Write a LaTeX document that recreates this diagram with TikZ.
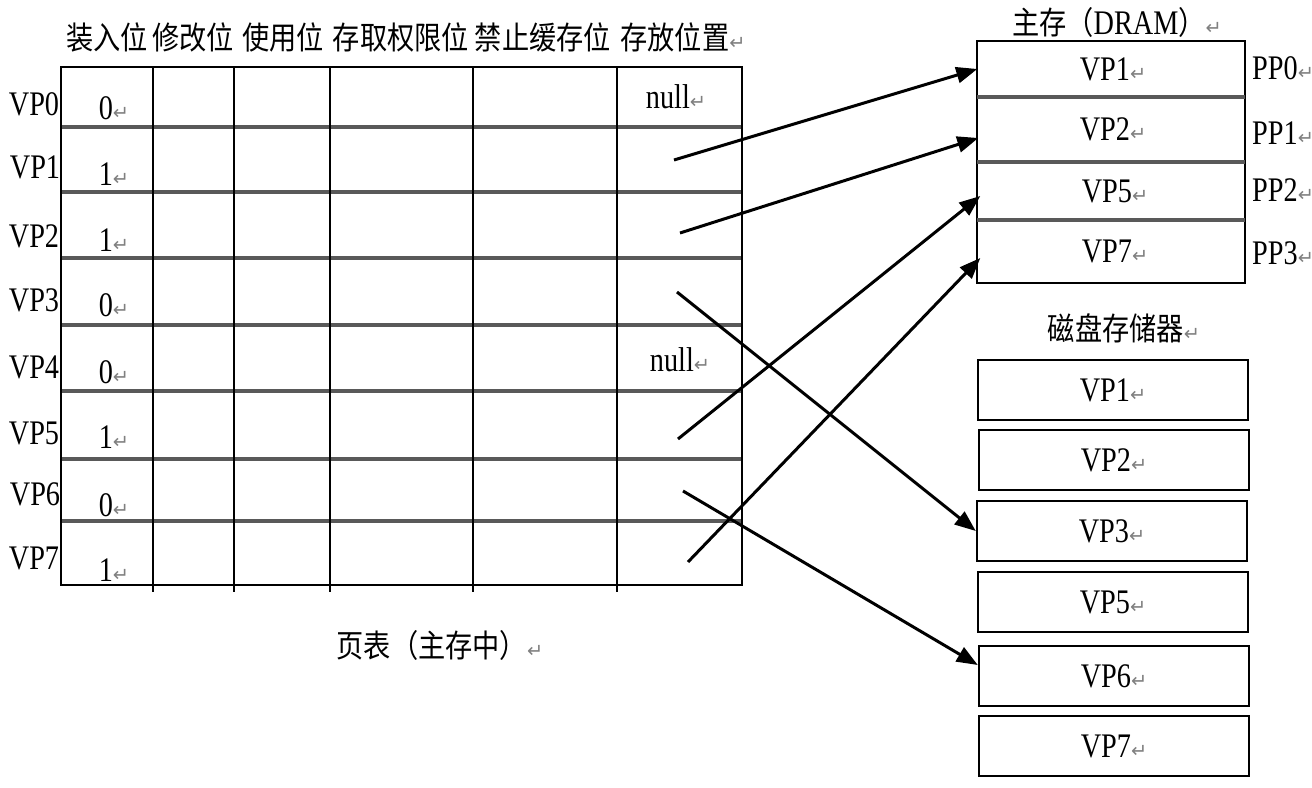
\documentclass[tikz,border=0pt]{standalone}
\usepackage{fontspec}
\setmainfont[FakeStretch=0.82]{Liberation Serif}
\newfontfamily\cjk[FakeStretch=0.86]{Noto Sans CJK SC}
\newfontfamily\symfont{DejaVu Sans}
\usepackage{tikz}
\usetikzlibrary{arrows.meta}
\newcommand{\ret}{{\symfont\color{gray}\fontsize{5.5}{6}\selectfont ↵}}

\begin{document}
\begin{tikzpicture}[x=0.1mm,y=-0.1mm,font=\fontsize{9.8}{11}\selectfont,
    hd/.style={font=\cjk\fontsize{9}{10}\selectfont},
    rowline/.style={gray!70!black, line width=0.9pt},
    mem/.style={minimum width=26.8mm, minimum height=5.6mm, inner sep=0pt},
    disk/.style={draw, line width=0.7pt, minimum width=27mm, minimum height=6.05mm, inner sep=0pt},
    link/.style={line width=0.85pt, -{Triangle[length=2.1mm,width=1.6mm]}}]
      \useasboundingbox (0,0) rectangle (1312,788);
      % page table
      \node [hd] (h1) at (107,37) {装入位};
      \node [hd] (h2) at (193,37) {修改位};
      \node [hd] (h3) at (283,37) {使用位};
      \node [hd] (h4) at (401,37) {存取权限位};
      \node [hd] (h5) at (543,37) {禁止缓存位};
      \node [hd] (h6) at (683,37) {存放位置\ret};
      \foreach \y in {127,192,258,325,391,459,521}
        \draw [rowline] (61,\y) -- (742,\y);
      \foreach \x in {153,234,330,473,617}
        \draw [black, line width=0.6pt] (\x,67) -- (\x,592);
      \draw [black, line width=0.6pt] (61,67) rectangle (742,585);
      \node (v0) at (34,104) {VP0};
      \node (v1) at (35,167) {VP1};
      \node (v2) at (34,236) {VP2};
      \node (v3) at (34,300) {VP3};
      \node (v4) at (34,367) {VP4};
      \node (v5) at (34,433) {VP5};
      \node (v6) at (35,494) {VP6};
      \node (v7) at (34,558) {VP7};
      \node (b0) at (114,108) {0\ret};
      \node (b1) at (114,174) {1\ret};
      \node (b2) at (114,240) {1\ret};
      \node (b3) at (114,305) {0\ret};
      \node (b4) at (114,372) {0\ret};
      \node (b5) at (114,437) {1\ret};
      \node (b6) at (114,505) {0\ret};
      \node (b7) at (114,570) {1\ret};
      \node (n0) at (676,97) {null\ret};
      \node (n4) at (680,360) {null\ret};
      \coordinate (s1) at (674,160);
      \coordinate (s2) at (680,233);
      \coordinate (s3) at (677,292);
      \coordinate (s5) at (678,439);
      \coordinate (s6) at (683,491);
      \coordinate (s7) at (688,562);
      \node [hd] (pt) at (440,645) {页表（主存中）\ret};
      % main memory
      \node (mt) at (1117,22) {{\cjk\fontsize{9}{10}\selectfont 主存（}DRAM{\cjk\fontsize{9}{10}\selectfont ）}\ret};
      \draw [black, line width=0.6pt] (977,41) rectangle (1245,283);
      \foreach \y in {97,162,220}
        \draw [rowline] (977,\y) -- (1245,\y);
      \node [mem] (m1) at (1113,69) {VP1\ret};
      \node [mem] (m2) at (1113,129) {VP2\ret};
      \node [mem] (m3) at (1115,191) {VP5\ret};
      \node [mem] (m4) at (1115,251) {VP7\ret};
      \node [anchor=west, inner sep=1pt] (p0) at (1248,68) {PP0\ret};
      \node [anchor=west, inner sep=1pt] (p1) at (1248,133) {PP1\ret};
      \node [anchor=west, inner sep=1pt] (p2) at (1248,190) {PP2\ret};
      \node [anchor=west, inner sep=1pt] (p3) at (1248,253) {PP3\ret};
      % disk
      \node [hd] (dt) at (1124,328) {磁盘存储器\ret};
      \node [disk] (d1) at (1113,390) {VP1\ret};
      \node [disk] (d2) at (1114,460) {VP2\ret};
      \node [disk] (d3) at (1112,531) {VP3\ret};
      \node [disk] (d5) at (1113,602) {VP5\ret};
      \node [disk] (d6) at (1114,676) {VP6\ret};
      \node [disk] (d7) at (1114,746) {VP7\ret};
      % links
      \draw [link] (s1) -- ([xshift=-0.1mm]m1.west);
      \draw [link] (s2) -- ([yshift=-0.9mm]m2.west);
      \draw [link] (s3) -- (d3.west);
      \draw [link] (s5) -- ([yshift=-0.5mm]m3.west);
      \draw [link] (s6) -- ([yshift=1.1mm]d6.west);
      \draw [link] (s7) -- ([yshift=-0.7mm]m4.west);
\end{tikzpicture}
\end{document}
